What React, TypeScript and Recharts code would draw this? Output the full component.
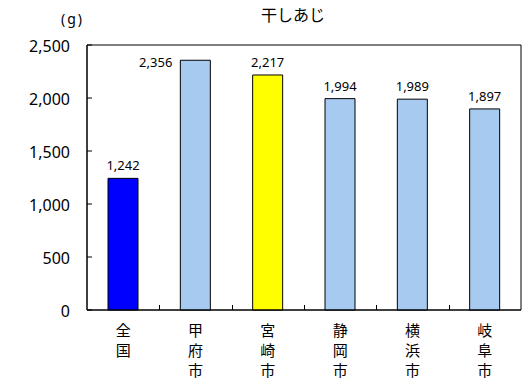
import { BarChart, Bar, XAxis, YAxis, Cell, LabelList, ReferenceArea } from "recharts";

const cities = ["全国", "甲府市", "宮崎市", "静岡市", "横浜市", "岐阜市"];
const grams = [1242, 2356, 2217, 1994, 1989, 1897];
const yTicks = [0, 500, 1000, 1500, 2000, 2500];

const barColors = ["#0000ff", "#a6caf0", "#ffff00", "#a6caf0", "#a6caf0", "#a6caf0"];

const FONT = "'Noto Sans', 'Noto Sans CJK JP', sans-serif";
const JP_FONT = "'Noto Sans CJK JP', sans-serif";

const W = 526;
const H = 386;
const PLOT_TOP = 45;
const Y_AXIS_W = 87;
const RIGHT = 5;
const BAND = (W - Y_AXIS_W - RIGHT) / cities.length;

const data = cities.map((city, i) => ({ city, value: grams[i] }));

function fmt(v: number) {
  return v.toLocaleString("en-US");
}

function YTick(props: any) {
  const { x, y, payload } = props;
  return (
    <g>
      {/* inward tick mark */}
      <path d={`M${x},${y}h5`} stroke="#000" strokeWidth={1} />
      <text x={x - 17} y={y + 7} textAnchor="end" fontSize={16} fontFamily={FONT} fill="#000">
        {fmt(payload.value)}
      </text>
    </g>
  );
}

function XTick(props: any) {
  const { x, y, payload } = props;
  const idx = payload?.index ?? props.index ?? 0;
  const chars = String(payload.value).split("");
  const sx = Math.round(x - BAND / 2) + 0.5;
  return (
    <g>
      {/* separator tick between categories, pointing into the plot */}
      {idx > 0 && <path d={`M${sx},${y}v-5`} stroke="#000" strokeWidth={1} />}
      {chars.map((c, i) => (
        <text
          key={i}
          x={x}
          y={y + 26 + i * 20}
          textAnchor="middle"
          fontSize={15}
          fontFamily={JP_FONT}
          fill="#000"
        >
          {c}
        </text>
      ))}
    </g>
  );
}

function ValueLabel(props: any) {
  const { x, y, width, value } = props;
  // label goes beside the bar when there is no room above it
  if (y - 20 < PLOT_TOP) {
    return (
      <text x={x - 8} y={y + 7} textAnchor="end" fontSize={13} fontFamily={FONT} fill="#000">
        {fmt(value)}
      </text>
    );
  }
  return (
    <text x={x + width / 2} y={y - 8} textAnchor="middle" fontSize={13} fontFamily={FONT} fill="#000">
      {fmt(value)}
    </text>
  );
}

export default function App() {
  return (
    <div style={{ position: "absolute", left: 0, top: 0, width: W, height: H, background: "#fff" }}>
      <div
        style={{
          position: "absolute",
          left: 261,
          top: 6,
          fontSize: 16,
          lineHeight: "16px",
          fontFamily: JP_FONT,
          whiteSpace: "nowrap",
        }}
      >
        干しあじ
      </div>
      <div
        style={{
          position: "absolute",
          left: 61,
          top: 11,
          fontSize: 14,
          lineHeight: "16px",
          fontFamily: FONT,
          letterSpacing: 2,
          whiteSpace: "nowrap",
        }}
      >
        (g)
      </div>
      <BarChart
        width={W}
        height={H}
        data={data}
        margin={{ top: PLOT_TOP, right: RIGHT, bottom: 0, left: 0 }}
        barSize={30}
      >
        <ReferenceArea y1={0} y2={2500} fill="none" stroke="#000" strokeWidth={1} fillOpacity={0} />
        <XAxis
          dataKey="city"
          height={76}
          tickLine={false}
          tickSize={0}
          tickMargin={0}
          axisLine={{ stroke: "#000" }}
          tick={<XTick />}
          interval={0}
        />
        <YAxis
          width={Y_AXIS_W}
          domain={[0, 2500]}
          ticks={yTicks}
          tickLine={false}
          tickSize={0}
          tickMargin={0}
          axisLine={{ stroke: "#000" }}
          tick={<YTick />}
          interval={0}
        />
        <Bar dataKey="value" stroke="#000" strokeWidth={1} isAnimationActive={false}>
          {data.map((d, i) => (
            <Cell key={d.city} fill={barColors[i]} />
          ))}
          <LabelList dataKey="value" content={<ValueLabel />} />
        </Bar>
      </BarChart>
    </div>
  );
}
